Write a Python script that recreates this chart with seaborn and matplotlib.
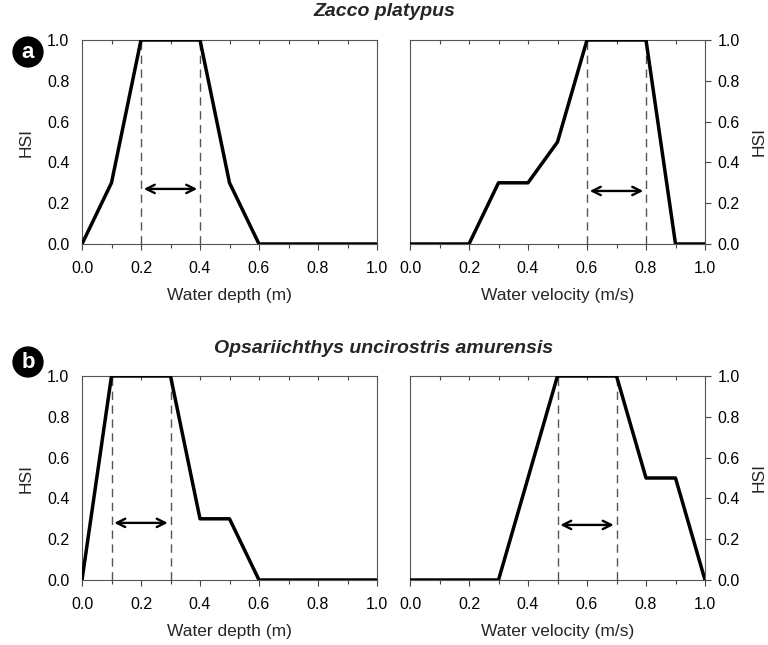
import matplotlib
matplotlib.use("Agg")
import matplotlib.pyplot as plt
import seaborn as sns
import pandas as pd
import numpy as np
from matplotlib.ticker import MultipleLocator, FormatStrFormatter

sns.set_theme(style="white")
plt.rcParams['font.family'] = ['Liberation Sans', 'DejaVu Sans']

# Data
zp_depth_x = [0.0, 0.1, 0.2, 0.4, 0.5, 0.6, 1.0]
zp_depth_y = [0.0, 0.3, 1.0, 1.0, 0.3, 0.0, 0.0]
zp_vel_x = [0.0, 0.2, 0.3, 0.4, 0.5, 0.6, 0.8, 0.9, 1.0]
zp_vel_y = [0.0, 0.0, 0.3, 0.3, 0.5, 1.0, 1.0, 0.0, 0.0]
ou_depth_x = [0.0, 0.1, 0.3, 0.4, 0.5, 0.6, 1.0]
ou_depth_y = [0.0, 1.0, 1.0, 0.3, 0.3, 0.0, 0.0]
ou_vel_x = [0.0, 0.3, 0.5, 0.7, 0.8, 0.9, 1.0]
ou_vel_y = [0.0, 0.0, 1.0, 1.0, 0.5, 0.5, 0.0]
optimal_ranges = [(0.2, 0.4), (0.6, 0.8), (0.1, 0.3), (0.5, 0.7)]
arrow_levels = [0.27, 0.26, 0.28, 0.27]
species = ["Zacco platypus", "Opsariichthys uncirostris amurensis"]
panel_letters = ["a", "b"]
xlabels = ["Water depth (m)", "Water velocity (m/s)"]

fig = plt.figure(figsize=(7.68, 6.45), dpi=100)
W, H = 768, 645

def px_axes(l, t, r, b):
    return fig.add_axes([l / W, 1 - b / H, (r - l) / W, (b - t) / H])

boxes = [(82, 40, 377, 244), (410, 40, 705, 244), (82, 376, 377, 580), (410, 376, 705, 580)]
datasets = [(zp_depth_x, zp_depth_y), (zp_vel_x, zp_vel_y), (ou_depth_x, ou_depth_y), (ou_vel_x, ou_vel_y)]

for i, (box, (xs, ys)) in enumerate(zip(boxes, datasets)):
    ax = px_axes(*box)
    df = pd.DataFrame({"x": xs, "y": ys})
    lo, hi = optimal_ranges[i]
    ax.plot([lo, lo], [0, 1], color="#555555", lw=1.0, ls=(0, (6, 4)), zorder=1)
    ax.plot([hi, hi], [0, 1], color="#555555", lw=1.0, ls=(0, (6, 4)), zorder=1)
    sns.lineplot(data=df, x="x", y="y", ax=ax, color="black", lw=2.5, sort=False, zorder=3)
    ax.annotate("", xy=(lo, arrow_levels[i]), xytext=(hi, arrow_levels[i]),
                arrowprops=dict(arrowstyle="<->", color="black", lw=1.7, mutation_scale=15))
    ax.set_xlim(0, 1)
    ax.set_ylim(0, 1)
    ax.xaxis.set_major_locator(MultipleLocator(0.2))
    ax.xaxis.set_minor_locator(MultipleLocator(0.1))
    ax.yaxis.set_major_locator(MultipleLocator(0.2))
    ax.xaxis.set_major_formatter(FormatStrFormatter("%.1f"))
    ax.yaxis.set_major_formatter(FormatStrFormatter("%.1f"))
    ax.tick_params(axis="both", which="both", direction="out", colors="#444444", labelcolor="black",
                   labelsize=11.5, length=4, width=0.8)
    ax.tick_params(axis="x", which="both", bottom=True, top=False, pad=8)
    ax.tick_params(axis="x", which="minor", length=3)
    # inward ticks along the top spine
    sec = ax.secondary_xaxis("top")
    sec.xaxis.set_major_locator(MultipleLocator(0.2))
    sec.xaxis.set_minor_locator(MultipleLocator(0.1))
    sec.tick_params(axis="x", which="both", direction="in", length=3, width=0.8, colors="#444444",
                    labeltop=False)
    sec.spines["top"].set_visible(False)
    for s in ax.spines.values():
        s.set_color("#555555")
        s.set_linewidth(0.8)
    ax.set_xlabel(xlabels[i % 2], fontsize=12.5, labelpad=9)
    if i % 2 == 1:
        ax.yaxis.tick_right()
        ax.tick_params(axis="y", which="both", left=False, right=True, labelright=True,
                       labelleft=False, pad=5)
        ax.set_ylabel("")
        fig.text(767 / W, 1 - ((box[1] + box[3]) / 2) / H, "HSI", rotation=90, fontsize=12.5,
                 ha="right", va="center")
    else:
        ax.tick_params(axis="y", pad=5)
        ax.set_ylabel("HSI", fontsize=12.5, labelpad=10)
    ax.set_facecolor("white")
    ax.grid(False)

# titles and panel letters
fig.text(384 / W, 1 - 12 / H, species[0], fontsize=14, fontweight="bold", fontstyle="italic",
         ha="center", va="center")
fig.text(384 / W, 1 - 348 / H, species[1], fontsize=14, fontweight="bold", fontstyle="italic",
         ha="center", va="center")
for letter, (cx, cy) in zip(panel_letters, [(28, 52), (28, 362)]):
    fig.text(cx / W, 1 - cy / H, letter, fontsize=16, fontweight="bold", color="white",
             ha="center", va="center",
             bbox=dict(boxstyle="circle,pad=0.2", fc="black", ec="black"))

fig.savefig("out.png", dpi=100)
